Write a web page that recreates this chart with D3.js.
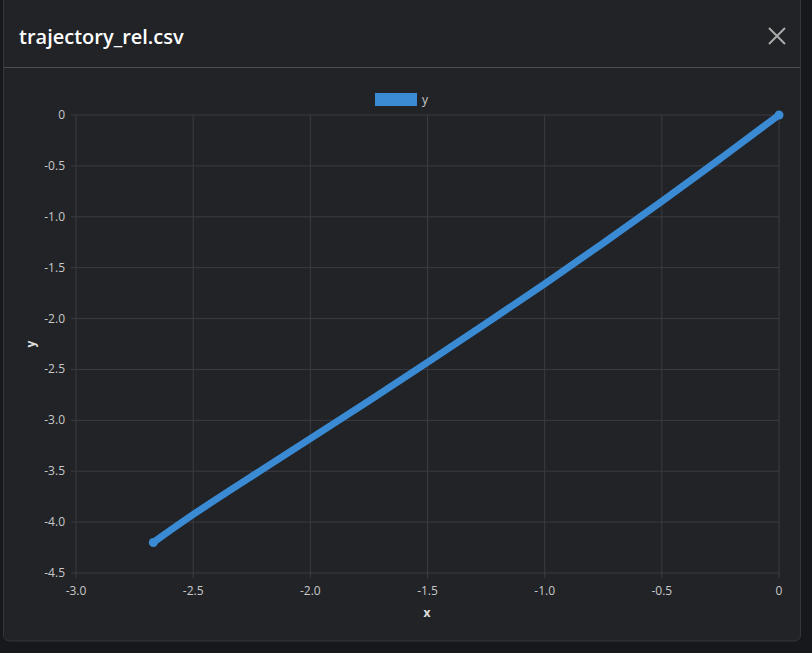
<!DOCTYPE html>
<html><head><meta charset="utf-8">
<script src="https://cdn.jsdelivr.net/npm/d3@7"></script>
<style>body{margin:0;background:#17181b;font-family:"Open Sans",sans-serif;}</style>
</head><body>
<svg id="c" width="812" height="653"></svg>
<script>
const xValues=[0,-0.25,-0.5,-0.75,-1,-1.25,-1.5,-1.75,-2,-2.25,-2.5,-2.67];
const yValues=[0,-0.43,-0.85,-1.26,-1.66,-2.05,-2.43,-2.81,-3.18,-3.55,-3.92,-4.20];
const xTicks=[-3,-2.5,-2,-1.5,-1,-0.5,0];
const yTicks=[0,-0.5,-1,-1.5,-2,-2.5,-3,-3.5,-4,-4.5];
const fmt=v=>v===0?"0":v.toFixed(1);
const svg=d3.select("#c");
svg.append("rect").attr("x",3.5).attr("y",-10).attr("width",797).attr("height",651).attr("rx",6)
 .attr("fill","#212327").attr("stroke","#34363b");
svg.append("text").attr("x",19).attr("y",44).attr("fill","#ffffff").attr("font-size",20).attr("font-weight",600).text("trajectory_rel.csv");
const cx=777,cy=36;
svg.append("path").attr("d",`M${cx-8},${cy-8}L${cx+8},${cy+8}M${cx+8},${cy-8}L${cx-8},${cy+8}`).attr("stroke","#aaa").attr("stroke-width",2);
svg.append("line").attr("x1",4).attr("x2",800).attr("y1",67.5).attr("y2",67.5).attr("stroke","#4a4c52");
const x=d3.scaleLinear().domain([-3,0]).range([76,779]);
const y=d3.scaleLinear().domain([-4.5,0]).range([573,115]);
const g=svg.append("g");
g.selectAll(".vx").data(xTicks).join("line").attr("x1",d=>x(d)).attr("x2",d=>x(d)).attr("y1",115).attr("y2",578).attr("stroke","#3a3c42");
g.selectAll(".hy").data(yTicks).join("line").attr("y1",d=>y(d)).attr("y2",d=>y(d)).attr("x1",71).attr("x2",779).attr("stroke","#3a3c42");
g.selectAll(".xt").data(xTicks).join("text").attr("x",d=>x(d)).attr("y",595).attr("text-anchor","middle").attr("fill","#c8c8c8").attr("font-size",12).text(fmt);
g.selectAll(".yt").data(yTicks).join("text").attr("x",65).attr("y",d=>y(d)+4).attr("text-anchor","end").attr("fill","#c8c8c8").attr("font-size",12).text(fmt);
svg.append("text").attr("x",427).attr("y",617).attr("text-anchor","middle").attr("fill","#e0e0e0").attr("font-size",12).attr("font-weight",700).text("x");
svg.append("text").attr("transform","translate(35,344) rotate(-90)").attr("text-anchor","middle").attr("fill","#e0e0e0").attr("font-size",12).attr("font-weight",700).text("y");
const pts=xValues.map((v,i)=>[v,yValues[i]]);
svg.append("path").attr("d",d3.line().x(d=>x(d[0])).y(d=>y(d[1])).curve(d3.curveBasis)(pts))
 .attr("fill","none").attr("stroke","#3a8ad4").attr("stroke-width",7).attr("stroke-linecap","round").attr("stroke-linejoin","round");
svg.selectAll(".end").data([pts[0],pts[pts.length-1]]).join("circle").attr("cx",d=>x(d[0])).attr("cy",d=>y(d[1])).attr("r",4.5).attr("fill","#3a8ad4");
svg.append("rect").attr("x",375).attr("y",93).attr("width",42).attr("height",13).attr("fill","#3a8ad4");
svg.append("text").attr("x",422).attr("y",104).attr("fill","#c8c8c8").attr("font-size",12).text("y");
</script></body></html>
